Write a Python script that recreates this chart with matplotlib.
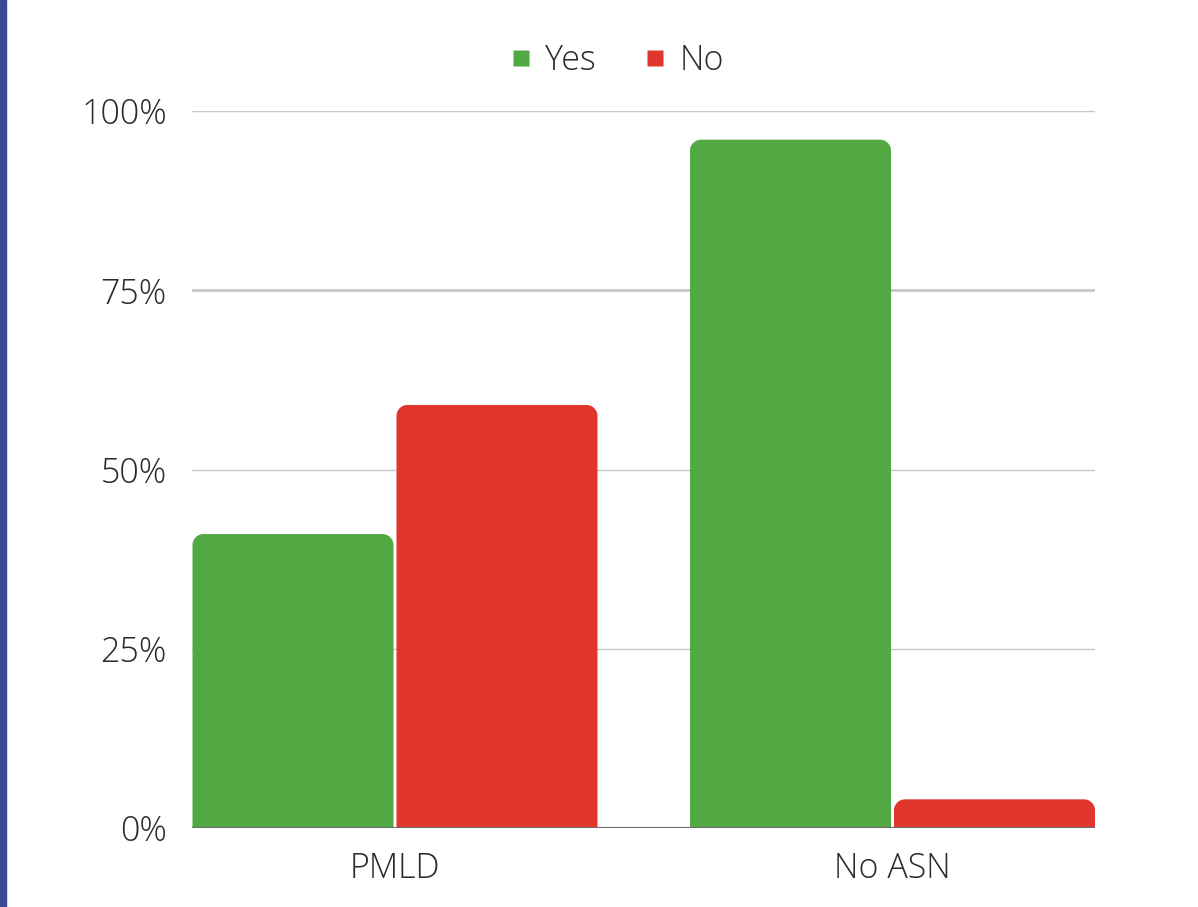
import numpy as np
import matplotlib.pyplot as plt
from matplotlib.path import Path
from matplotlib.patches import PathPatch, Rectangle
from matplotlib.lines import Line2D

plt.rcParams["font.family"] = ["Open Sans", "DejaVu Sans"]

categories = ["PMLD", "No ASN"]
series_names = ["Yes", "No"]
yes_values = [41, 96]
no_values = [59, 4]
colors = ["#52a843", "#e0362e"]
yticks = [0, 25, 50, 75, 100]

fig = plt.figure(figsize=(11.98, 9.07), dpi=100)
ax = fig.add_axes([192 / 1198, 79 / 907, 903 / 1198, 717 / 907])
ax.set_xlim(-0.408, 1.407)
ax.set_ylim(0, 100)

# left accent strip
fig.patches.append(Rectangle((0, 0), 6 / 1198, 1, transform=fig.transFigure,
                             color="#3b4a96", zorder=0))


def rounded_bar(ax, x0, w, h, color, r_px=11):
    # rounded top corners, radius in pixels converted to data units
    px_x = ax.bbox.width / (ax.get_xlim()[1] - ax.get_xlim()[0])
    px_y = ax.bbox.height / (ax.get_ylim()[1] - ax.get_ylim()[0])
    rx = min(r_px / px_x, w / 2)
    ry = min(r_px / px_y, h)
    k = 0.5523
    x1 = x0 + w
    verts = [(x0, 0), (x0, h - ry),
             (x0, h - ry + k * ry), (x0 + rx - k * rx, h), (x0 + rx, h),
             (x1 - rx, h),
             (x1 - rx + k * rx, h), (x1, h - ry + k * ry), (x1, h - ry),
             (x1, 0), (x0, 0)]
    codes = [Path.MOVETO, Path.LINETO,
             Path.CURVE4, Path.CURVE4, Path.CURVE4,
             Path.LINETO,
             Path.CURVE4, Path.CURVE4, Path.CURVE4,
             Path.LINETO, Path.CLOSEPOLY]
    ax.add_patch(PathPatch(Path(verts, codes), facecolor=color,
                           edgecolor="none", zorder=3))


x = np.arange(len(categories))
bw = 0.404
gap = 0.003
for i in range(len(categories)):
    rounded_bar(ax, x[i] - bw - gap, bw, yes_values[i], colors[0])
    rounded_bar(ax, x[i] + gap, bw, no_values[i], colors[1])

for t in yticks[1:]:
    ax.axhline(t, color="#c6c6c6", lw=2.0 if t == 75 else 1.0, zorder=1)
ax.axhline(0, color="#6e6e6e", lw=1.5, zorder=4)

for s in ax.spines.values():
    s.set_visible(False)

ax.set_yticks(yticks)
ax.set_yticklabels([f"{t}%" for t in yticks])
ax.set_xticks(x)
ax.set_xticklabels(categories)
ax.tick_params(axis="y", length=0, pad=18, labelsize=24.5, labelcolor="#2b2b2b")
ax.tick_params(axis="x", length=0, pad=17, labelsize=24.5, labelcolor="#2b2b2b")
for lab in ax.get_xticklabels() + ax.get_yticklabels():
    lab.set_fontweight("light")

handles = [Line2D([], [], marker="s", linestyle="none", markersize=12,
                  markerfacecolor=c, markeredgecolor="none") for c in colors]
leg = fig.legend(handles, series_names, loc="center", ncol=2,
                 bbox_to_anchor=(614 / 1198, 1 - 61 / 907), frameon=False,
                 fontsize=24.5, handletextpad=0.2, columnspacing=1.25,
                 handlelength=1.0)
for t in leg.get_texts():
    t.set_color("#2b2b2b")
    t.set_fontweight("light")

fig.savefig("out.png", dpi=100)
